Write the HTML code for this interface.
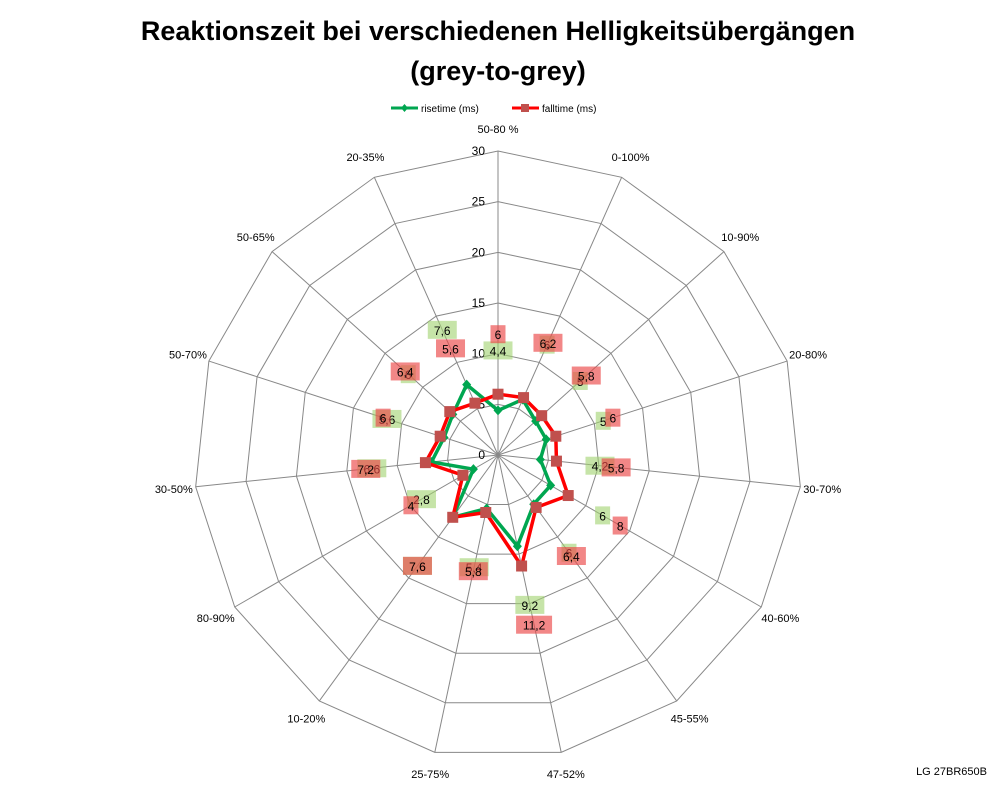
<!DOCTYPE html>
<html><head><meta charset="utf-8"><style>
body{margin:0;background:#fff;width:998px;height:786px;overflow:hidden;font-family:"Liberation Sans",sans-serif}
</style></head><body>
<svg width="998" height="786" viewBox="0 0 998 786">
<text x="498" y="40" text-anchor="middle" font-size="27" font-weight="bold">Reaktionszeit bei verschiedenen Helligkeitsübergängen</text>
<text x="498" y="80" text-anchor="middle" font-size="27" font-weight="bold">(grey-to-grey)</text>
<g font-size="10">
<g><line x1="391" y1="108" x2="418" y2="108" stroke="#00a650" stroke-width="3"/><path d="M404.5,104 L408,108 L404.5,112 L401,108Z" fill="#00a650"/><text x="421" y="112">risetime (ms)</text></g>
<g><line x1="512" y1="108" x2="539" y2="108" stroke="#ff0000" stroke-width="3"/><rect x="521" y="104" width="8" height="8" fill="#c0504d"/><text x="542" y="112">falltime (ms)</text></g>
</g>
<g id="grid"></g>
<g id="series"></g>
<g id="labels"></g>
<text x="987" y="775" text-anchor="end" font-size="11">LG 27BR650B</text>
</svg>
<script>
const categories=["50-80 %","0-100%","10-90%","20-80%","30-70%","40-60%","45-55%","47-52%","25-75%","10-20%","80-90%","30-50%","50-70%","50-65%","20-35%"];
const risetime=[4.4,6,5,5,4.2,6,6,9.2,5.4,7.6,2.8,6.6,5.6,6,7.6];
const falltime=[6,6.2,5.8,6,5.8,8,6.4,11.2,5.8,7.6,4,7.2,6,6.4,5.6];
const ticks=[0,5,10,15,20,25,30];
const cx=498,cy=455,R=304,maxV=30;
const NS="http://www.w3.org/2000/svg";
function mk(t,a,p){const e=document.createElementNS(NS,t);for(const k in a)e.setAttribute(k,a[k]);p.appendChild(e);return e;}
function ang(i){return i*2*Math.PI/categories.length;}
function pt(i,v,extra){const r=v/maxV*R+(extra||0);return [cx+r*Math.sin(ang(i)),cy-r*Math.cos(ang(i))];}
const grid=document.getElementById('grid');
ticks.slice(1).forEach(t=>{
  const p=categories.map((c,i)=>pt(i,t).join(',')).join(' ');
  const g=mk('polygon',{points:p,fill:'none',stroke:'#888','stroke-width':1},grid);
  
  
});
categories.forEach((c,i)=>{
  const [x,y]=pt(i,maxV);
  const l=mk('line',{x1:cx,y1:cy,x2:x,y2:y,stroke:'#888','stroke-width':1},grid);
  
  
  const [lx,ly]=pt(i,maxV,22);
  const t=mk('text',{x:lx,y:ly+4,'text-anchor':'middle','font-size':11},grid);
  t.textContent=c;
  
  
});
ticks.forEach(t=>{
  const tx=mk('text',{x:cx-13,y:cy-t/maxV*R+4,'text-anchor':'end','font-size':12},grid);
  tx.textContent=t;
  
  
});
const series=document.getElementById('series');
function draw(vals,color,name,marker){
  const p=vals.map((v,i)=>pt(i,v).join(',')).join(' ');
  const pl=mk('polygon',{points:p,fill:'none',stroke:color,'stroke-width':3.5,'stroke-linejoin':'round'},series);
  
  
  vals.forEach((v,i)=>{
    const [x,y]=pt(i,v);let m;
    if(marker==='sq')m=mk('rect',{x:x-5.5,y:y-5.5,width:11,height:11,fill:'#c0504d'},series);
    else m=mk('path',{d:`M${x},${y-5}L${x+4.5},${y}L${x},${y+5}L${x-4.5},${y}Z`,fill:'#00a650'},series);
    
    
  });
}
draw(risetime,'#00a650','risetime','dia');
draw(falltime,'#ff0000','falltime','sq');
const labels=document.getElementById('labels');
function lab(vals,fill,name){
  vals.forEach((v,i)=>{
    const [x,y]=pt(i,v,60);
    const s=String(v).replace('.',',');
    const w=s.length*7+8;
    const r=mk('rect',{x:x-w/2,y:y-9,width:w,height:18,fill:fill},labels);
    
    
    const t=mk('text',{x:x,y:y+5,'text-anchor':'middle','font-size':12},labels);
    t.textContent=s;
    
    
  });
}
lab(risetime,'rgba(160,210,110,0.6)','risetime');
lab(falltime,'rgba(235,70,70,0.65)','falltime');
</script>
</body></html>
